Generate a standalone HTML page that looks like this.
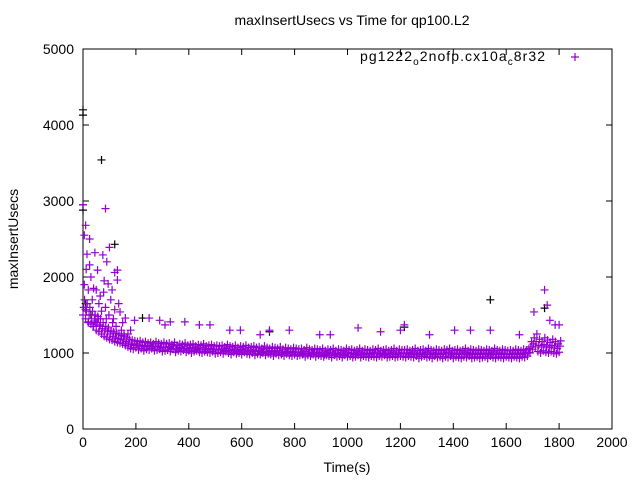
<!DOCTYPE html>
<html><head><meta charset="utf-8"><style>
body{margin:0;background:#fff;}
svg{display:block;font-family:"Liberation Sans",sans-serif;}
</style></head><body>
<svg id="c" width="640" height="480"></svg>
<script>
const xTicks=[0,200,400,600,800,1000,1200,1400,1600,1800,2000];
const yTicks=[0,1000,2000,3000,4000,5000];
const bandLo=[1500,1450,1400,1380,1350,1300,1280,1250,1220,1200,1180,1170,1150,1140,1130,1120,
1100,1080,1060,1050,1070,1040,1060,1030,1050,1040,1060,1030,1040,1050,1020,
1030,1040,1020,1050,1010,1030,1020,1040,1010,1030,1000,1020,1030,1010,1000,1020,1010,1000,1020,990,
1000,1010,990,1020,1000,980,1010,990,1000,980,1010,990,980,1000,970,990,980,1000,970,990,980,960,990,970,980,960,990,970,960,980,
960,970,980,950,970,960,980,950,970,960,950,970,960,940,970,950,960,940,970,950,960,940,950,970,940,960,950,940,960,950,940,960,950,970,940,950,960,940,950,960,
950,940,960,950,940,960,930,950,960,940,950,930,960,940,950,930,950,940,960,930,950,940,930,950,940,960,930,940,950,930,940,950,930,960,940,930,950,940,930,950,
940,930,950,940,930,950,940,960,1000,1050,1080,1020,1000,1030,1010,1000,1020,1000,990,1010];
const bandMid=[1600,1550,1500,1450,1420,1400,1350,1320,1300,1280,1250,1220,1200,1190,1180,1170,
1150,1130,1110,1100,1120,1090,1100,1080,1090,1100,1080,1090,1080,1070,1080,
1070,1080,1060,1090,1050,1070,1060,1080,1050,1060,1070,1040,1060,1050,1070,1040,1050,1060,1040,1050,
1040,1050,1030,1060,1040,1030,1050,1020,1040,1030,1050,1020,1030,1040,1020,1030,1010,1040,1020,1010,1030,1020,1010,1030,1000,1020,1010,1000,1020,1010,
1000,1010,990,1020,1000,990,1010,1000,990,1010,980,1000,990,1010,980,1000,990,980,1010,990,1000,980,990,1010,980,1000,990,980,1000,990,1010,980,990,1000,980,990,1010,980,1000,990,
990,1000,980,990,1010,980,990,1000,980,1010,990,980,1000,990,980,1000,990,1010,980,990,1000,980,990,1010,980,1000,990,980,1000,990,980,1000,990,980,1010,990,980,1000,990,980,
990,980,1000,990,980,1000,990,1010,1080,1120,1150,1100,1080,1110,1090,1070,1100,1080,1060,1090];
const bandHi=[1700,1650,1600,1550,1500,1480,1450,1400,1350,1330,1300,1280,1260,1250,1230,1220,
1200,1180,1170,1160,1150,1160,1140,1150,1130,1140,1120,1150,1130,1120,1140,
1120,1130,1110,1140,1100,1120,1110,1130,1100,1110,1120,1090,1110,1100,1120,1090,1100,1110,1090,1100,
1090,1100,1080,1110,1090,1080,1100,1070,1090,1080,1100,1070,1080,1090,1070,1080,1060,1090,1070,1060,1080,1070,1060,1080,1050,1070,1060,1050,1070,1060,
1050,1060,1040,1070,1050,1040,1060,1050,1040,1060,1030,1050,1040,1060,1030,1050,1040,1030,1060,1040,1050,1030,1040,1060,1030,1050,1040,1030,1050,1040,1060,1030,1040,1050,1030,1040,1060,1030,1050,1040,
1040,1050,1030,1040,1060,1030,1040,1050,1030,1060,1040,1030,1050,1040,1030,1050,1040,1060,1030,1040,1050,1030,1040,1060,1030,1050,1040,1030,1050,1040,1030,1050,1040,1030,1060,1040,1030,1050,1040,1030,
1040,1030,1050,1040,1030,1050,1040,1060,1150,1200,1250,1180,1150,1200,1170,1140,1180,1150,1120,1160];
const outT=[0,5,10,25,45,25,55,75,85,90,100,120,130,20,35,50,65,95,110,130,10,45,85,120,140,160,20,65,195,250,290,310,330,385,440,480,555,595,670,705,780,895,935,1040,1125,1200,1215,1310,1405,1465,1540,1650,1745,1755,1765,1785,1800,1705,
15,30,40,60,70,80,105,115,125,145,150,170,180,5,38,58,78,98,112,135,155,12,48,88];
const outV=[2950,2550,2680,2500,2320,2160,2090,2290,2900,2200,2390,2060,2090,1830,1700,1830,1750,1910,1830,1960,1570,1500,1600,1570,1540,1460,1410,1370,1430,1460,1430,1370,1410,1410,1370,1370,1300,1300,1240,1300,1300,1240,1240,1330,1280,1300,1370,1240,1300,1300,1300,1240,1830,1630,1430,1370,1370,1540,
2300,2000,1850,1650,1550,1950,1700,1450,1350,1300,1400,1250,1300,1900,1350,1450,1800,1500,1400,1650,1250,2100,1400,1450];
const blkT=[0,0,70,0,0,120,225,1540,1745,1215,705,10,30];
const blkV=[4200,4130,3540,2950,2880,2430,1460,1700,1590,1340,1280,1650,1500];
const L=83,R=612,T=49,B=429;
const sx=t=>L+(t-0)/2000*(R-L);
const sy=v=>B-v/5000*(B-T);
const svg=document.getElementById('c');
const NS='http://www.w3.org/2000/svg';
function mk(tag,attrs,parent){const e=document.createElementNS(NS,tag);for(const k in attrs)e.setAttribute(k,attrs[k]);(parent||svg).appendChild(e);return e;}
const frame=mk('rect',{x:L,y:T,width:R-L,height:B-T,fill:'none',stroke:'#000','stroke-width':1});


xTicks.forEach(t=>{const x=sx(t);
mk('line',{x1:x,y1:B,x2:x,y2:B-6,stroke:'#000'});mk('line',{x1:x,y1:T,x2:x,y2:T+6,stroke:'#000'});
const tx=mk('text',{x:x,y:B+18,'text-anchor':'middle','font-size':14,fill:'#000'});tx.textContent=t;

});
yTicks.forEach(v=>{const y=sy(v);
mk('line',{x1:L,y1:y,x2:L+6,y2:y,stroke:'#000'});mk('line',{x1:R,y1:y,x2:R-6,y2:y,stroke:'#000'});
const tx=mk('text',{x:L-9,y:y+5,'text-anchor':'end','font-size':14,fill:'#000'});tx.textContent=v;

});
function plus(x,y,col,g){mk('path',{d:`M${x-4},${y}h8M${x},${y-4}v8`,stroke:col,'stroke-width':1.2,fill:'none'},g);}
const gb=mk('g',{});


blkT.forEach((t,i)=>plus(sx(t),sy(blkV[i]),'#000',gb));
const gp=mk('g',{});


const col='#9400d3';
bandLo.forEach((v,i)=>plus(sx(i*10),sy(v),col,gp));
bandMid.forEach((v,i)=>plus(sx(i*10+3),sy(v),col,gp));
bandHi.forEach((v,i)=>plus(sx(i*10+6),sy(v),col,gp));
outT.forEach((t,i)=>plus(sx(t),sy(outV[i]),col,gp));
plus(575,57,col,svg);
</script>
<svg style="position:absolute;left:0;top:0" width="640" height="480">
<text x="352" y="25" text-anchor="middle" font-size="14" font-family="Liberation Sans,sans-serif">maxInsertUsecs vs Time for qp100.L2</text>
<text x="347" y="472" text-anchor="middle" font-size="14" font-family="Liberation Sans,sans-serif">Time(s)</text>
<text transform="translate(18,239) rotate(-90)" text-anchor="middle" font-size="14" font-family="Liberation Sans,sans-serif">maxInsertUsecs</text>
<text x="360" y="61" textLength="185" font-size="14" font-family="Liberation Sans,sans-serif">pg1222<tspan dy="4" font-size="10">o</tspan><tspan dy="-4">2nofp.cx10a</tspan><tspan dy="4" font-size="10">c</tspan><tspan dy="-4">8r32</tspan></text>
</svg>
</body></html>
